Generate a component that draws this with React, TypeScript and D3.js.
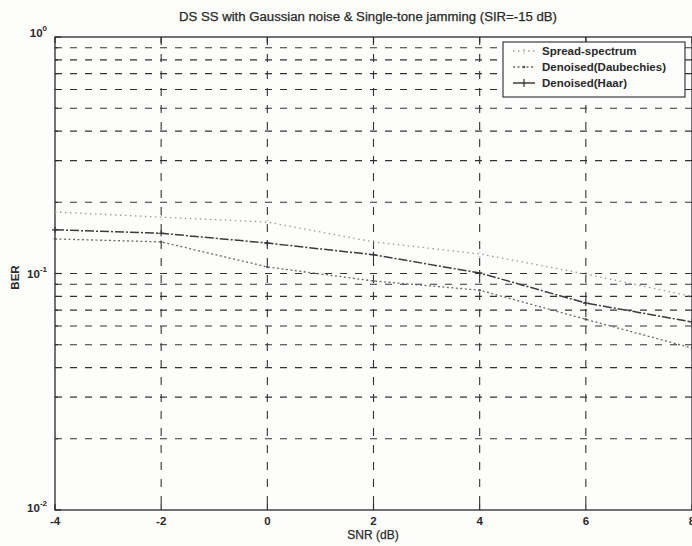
// App.tsx — BER vs SNR chart (DS SS, Gaussian noise + single-tone jamming), log y axis.
import * as d3 from "d3";

const snr = [-4, -2, 0, 2, 4, 6, 8];
const spreadSpectrum = [0.182, 0.173, 0.165, 0.136, 0.121, 0.0995, 0.08];
const daubechies = [0.14, 0.136, 0.1066, 0.093, 0.085, 0.064, 0.0484];
const haar = [0.153, 0.148, 0.1345, 0.12, 0.1005, 0.075, 0.0624];

const xTicks = [-4, -2, 0, 2, 4, 6, 8];
const yMajor = [1, 0.1, 0.01];
const yMinor = [0.02, 0.03, 0.04, 0.05, 0.06, 0.07, 0.08, 0.09, 0.2, 0.3, 0.4, 0.5, 0.6, 0.7, 0.8, 0.9];
const legendLabels = ["Spread-spectrum", "Denoised(Daubechies)", "Denoised(Haar)"];

const W = 692;
const H = 546;
const left = 55;
const right = 692;
const top = 37;
const bottom = 510;
const font = "'Liberation Sans', Arial, sans-serif";
const ink = "#2a2a2a";

export default function App() {
  const x = d3.scaleLinear().domain([-4, 8]).range([left, right]);
  const y = d3.scaleLog().domain([0.01, 1]).range([bottom, top]);

  const pts = (vals: number[]) => snr.map((s, i) => [x(s), y(vals[i])] as [number, number]);
  const line = d3.line();

  const series = [
    { vals: spreadSpectrum, stroke: "#9a9a9a", dash: "1.5,3.5", width: 1.3 },
    { vals: daubechies, stroke: "#6a6a6a", dash: "2,2.5", width: 1.3 },
    { vals: haar, stroke: "#3c3c3c", dash: "9,2,2,2", width: 1.5 },
  ];

  const gridX = xTicks.slice(1, -1);
  const gridY = [...yMinor, 0.1];

  return (
    <svg width={W} height={H} style={{ position: "absolute", left: 0, top: 0, background: "#fdfdfc" }}>
      <rect x={0} y={0} width={W} height={H} fill="#fdfdfc" />

      {/* grid */}
      {gridY.map((v) => (
        <line key={"gy" + v} x1={left} x2={right} y1={y(v)} y2={y(v)} stroke="#333" strokeWidth={1.1} strokeDasharray="7,8" />
      ))}
      {gridX.map((v) => (
        <line key={"gx" + v} x1={x(v)} x2={x(v)} y1={top} y2={bottom} stroke="#333" strokeWidth={1.1} strokeDasharray="8,9" />
      ))}

      {/* axis box */}
      <rect x={left} y={top} width={right - left} height={bottom - top} fill="none" stroke={ink} strokeWidth={1.3} />

      {/* x ticks */}
      {xTicks.map((v) => (
        <g key={"xt" + v}>
          <line x1={x(v)} x2={x(v)} y1={bottom} y2={bottom - 6} stroke={ink} strokeWidth={1.2} />
          <line x1={x(v)} x2={x(v)} y1={top} y2={top + 6} stroke={ink} strokeWidth={1.2} />
          <text x={x(v)} y={bottom + 15} textAnchor="middle" fontFamily={font} fontSize={11.5} fontWeight="bold" fill={ink}>
            {v}
          </text>
        </g>
      ))}

      {/* y ticks */}
      {yMajor.map((v) => (
        <g key={"ym" + v}>
          <line x1={left} x2={left + 6} y1={y(v)} y2={y(v)} stroke={ink} strokeWidth={1.2} />
          <text x={left - 8} y={y(v) + (v === 0.01 ? 2 : v === 1 ? 0 : 4)} textAnchor="end" fontFamily={font} fontSize={11.5} fontWeight="bold" fill={ink}>
            10
            <tspan dy={-6} fontSize={8}>{Math.round(Math.log10(v))}</tspan>
          </text>
        </g>
      ))}
      {yMinor.map((v) => (
        <line key={"yn" + v} x1={left} x2={left + 3} y1={y(v)} y2={y(v)} stroke={ink} strokeWidth={1} />
      ))}

      {/* series */}
      {series.map((s, i) => (
        <path key={"s" + i} d={line(pts(s.vals)) ?? ""} fill="none" stroke={s.stroke} strokeWidth={s.width} strokeDasharray={s.dash} />
      ))}
      {pts(spreadSpectrum).map(([px, py], i) => (
        <text key={"m0" + i} x={px} y={py + 3} textAnchor="middle" fontFamily={font} fontSize={9} fill="#9a9a9a">:</text>
      ))}
      {pts(daubechies).map(([px, py], i) => (
        <circle key={"m1" + i} cx={px} cy={py} r={1.3} fill="#555" />
      ))}
      {pts(haar).map(([px, py], i) => (
        <path key={"m2" + i} d={`M${px - 3},${py}H${px + 3}M${px},${py - 3}V${py + 3}`} stroke="#333" strokeWidth={1.2} />
      ))}

      {/* legend */}
      <rect x={503} y={42} width={182} height={55} fill="#fdfdfc" stroke={ink} strokeWidth={1.1} />
      {legendLabels.map((label, i) => {
        const ly = 51 + i * 16;
        const s = series[i];
        return (
          <g key={"lg" + i}>
            <line x1={513} x2={535} y1={ly} y2={ly} stroke={s.stroke} strokeWidth={s.width} strokeDasharray={i === 2 ? undefined : s.dash} />
            {i === 0 && <text x={524} y={ly + 3} textAnchor="middle" fontFamily={font} fontSize={9} fill="#9a9a9a">:</text>}
            {i === 1 && <circle cx={524} cy={ly} r={1.3} fill="#555" />}
            {i === 2 && <path d={`M524,${ly - 4}V${ly + 4}`} stroke="#333" strokeWidth={1.2} />}
            <text x={542} y={ly + 4} fontFamily={font} fontSize={11.5} fontWeight="bold" fill={ink}>
              {label}
            </text>
          </g>
        );
      })}

      {/* titles */}
      <text x={368} y={21} textAnchor="middle" fontFamily={font} fontSize={12} fill={ink} stroke={ink} strokeWidth={0.25}
        textLength={378} lengthAdjust="spacingAndGlyphs">
        DS SS with Gaussian noise &amp; Single-tone jamming (SIR=-15 dB)
      </text>
      <text x={373} y={539} textAnchor="middle" fontFamily={font} fontSize={12} fill={ink} stroke={ink} strokeWidth={0.25}>
        SNR (dB)
      </text>
      <text transform={`translate(19,${(top + bottom) / 2 + 4}) rotate(-90)`} textAnchor="middle" fontFamily={font} fontSize={11.5} fontWeight="bold" fill={ink}>
        BER
      </text>
    </svg>
  );
}
